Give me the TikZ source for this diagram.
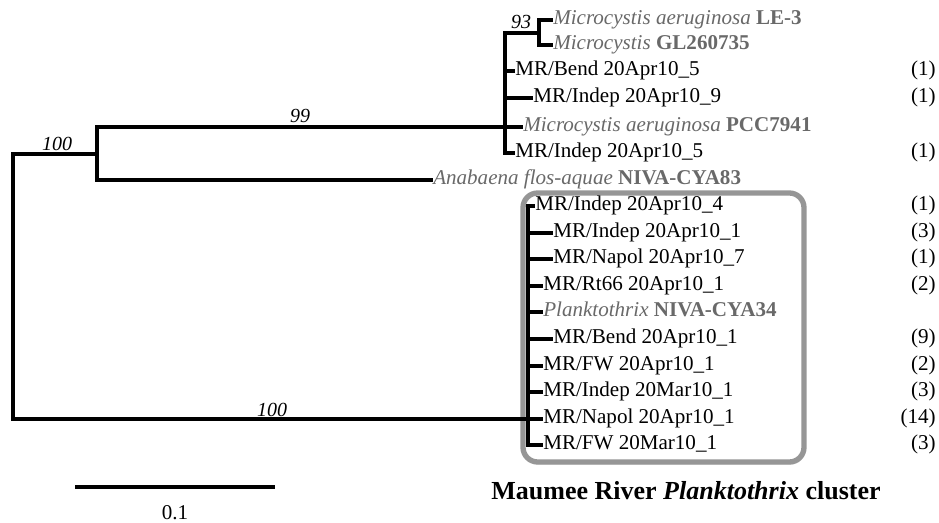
\documentclass[tikz,border=0pt]{standalone}
\usepackage{fontspec}
\setmainfont{Liberation Serif}
\usetikzlibrary{positioning, shadows}
\definecolor{taxongray}{RGB}{105,105,105}
\definecolor{clusterborder}{RGB}{150,150,150}

\begin{document}
\begin{tikzpicture}[
    x=0.75pt, y=-0.75pt,
    branch/.style = {line width=2.6pt, line cap=rect, line join=miter},
    leaf/.style = {
      anchor=west, inner xsep=1.5pt, inner ysep=0pt,
      text height=0.66em, text depth=0pt,
      font=\fontsize{15.8}{18}\selectfont
    },
    refleaf/.style = {leaf, text=taxongray},
    count/.style = {
      anchor=east, inner sep=0pt, text height=0.66em, text depth=0pt,
      font=\fontsize{15.8}{18}\selectfont
    },
    support/.style = {font=\fontsize{15}{17}\selectfont\itshape, inner sep=0pt},
    clusterbox/.style = {
      draw=clusterborder, line width=4pt, fill=white, rounded corners=11pt,
      drop shadow={opacity=0.25, shadow xshift=1pt, shadow yshift=-2pt}
    },
    caption/.style = {font=\fontsize{19.5}{22}\selectfont\bfseries, inner sep=0pt},
  ]
    \useasboundingbox (0,0) rectangle (939,523);

    % Planktothrix box (behind the tree)
    \draw[clusterbox] (523,193) rectangle (804,462);

    % Internal nodes
    \coordinate (nRoot) at (13,154);
    \coordinate (nAna)  at (97,154);
    \coordinate (nMic)  at (505,127);
    \coordinate (n93)   at (539,33);
    \coordinate (nPlk)  at (528,419);

    % Leaves: Microcystis clade
    \node[refleaf] (mic1)   at (551,20)  {\textit{Microcystis aeruginosa} \textbf{LE-3}};
    \node[refleaf] (mic2)   at (551,45)  {\textit{Microcystis} \textbf{GL260735}};
    \node[leaf]    (bend5)  at (513,71)  {MR/Bend 20Apr10\_5};
    \node[leaf]    (indep9) at (531,98)  {MR/Indep 20Apr10\_9};
    \node[refleaf] (pcc)    at (521,127) {\textit{Microcystis aeruginosa} \textbf{PCC7941}};
    \node[leaf]    (indep5) at (513,153) {MR/Indep 20Apr10\_5};
    \node[refleaf] (anab)   at (431,180) {\textit{Anabaena flos-aquae} \textbf{NIVA-CYA83}};

    % Leaves: Planktothrix cluster
    \node[leaf]    (p1)  at (533,206) {MR/Indep 20Apr10\_4};
    \node[leaf]    (p2)  at (551,233) {MR/Indep 20Apr10\_1};
    \node[leaf]    (p3)  at (551,259) {MR/Napol 20Apr10\_7};
    \node[leaf]    (p4)  at (541,286) {MR/Rt66 20Apr10\_1};
    \node[refleaf] (p5)  at (541,312) {\textit{Planktothrix} \textbf{NIVA-CYA34}};
    \node[leaf]    (p6)  at (551,339) {MR/Bend 20Apr10\_1};
    \node[leaf]    (p7)  at (541,366) {MR/FW 20Apr10\_1};
    \node[leaf]    (p8)  at (541,392) {MR/Indep 20Mar10\_1};
    \node[leaf]    (p9)  at (541,419) {MR/Napol 20Apr10\_1};
    \node[leaf]    (p10) at (541,445) {MR/FW 20Mar10\_1};

    % Clone counts
    \node[count] (cBend5)  at (936,71)  {(1)};
    \node[count] (cIndep9) at (936,98)  {(1)};
    \node[count] (cIndep5) at (936,153) {(1)};
    \node[count] (c1)  at (936,206) {(1)};
    \node[count] (c2)  at (936,233) {(3)};
    \node[count] (c3)  at (936,259) {(1)};
    \node[count] (c4)  at (936,286) {(2)};
    \node[count] (c6)  at (936,339) {(9)};
    \node[count] (c7)  at (936,366) {(2)};
    \node[count] (c8)  at (936,392) {(3)};
    \node[count] (c9)  at (936,419) {(14)};
    \node[count] (c10) at (936,445) {(3)};

    % Branches
    \draw[branch] (nAna) -- (nRoot) -- (nRoot |- p9.west) -- (p9.west);
    \draw[branch] (pcc.west) -- (nAna |- pcc.west) -- (nAna |- anab.west) -- (anab.west);
    \draw[branch] (n93) -- (nMic |- n93) -- (nMic |- indep5.west) -- (indep5.west);
    \draw[branch] (mic1.west) -- (n93 |- mic1.west) -- (n93 |- mic2.west) -- (mic2.west);
    \draw[branch] (nMic |- bend5.west) -- (bend5.west);
    \draw[branch] (nMic |- indep9.west) -- (indep9.west);
    \draw[branch] (p1.west) -- (nPlk |- p1.west) -- (nPlk |- p10.west) -- (p10.west);
    \foreach \leaf in {p2,p3,p4,p5,p6,p7,p8}
      \draw[branch] (nPlk |- \leaf.west) -- (\leaf.west);

    % Bootstrap values
    \node[support] (bs100a) at (57,144)  {100};
    \node[support] (bs99)   at (300,116) {99};
    \node[support] (bs93)   at (521,22)  {93};
    \node[support] (bs100b) at (272,410) {100};

    % Scale bar
    \coordinate (sbL) at (75,487);
    \coordinate (sbR) at (275,487);
    \draw[line width=2.6pt] (sbL) -- (sbR);
    \node[font=\fontsize{15.8}{18}\selectfont, inner sep=0pt] (sbText) at (175,513) {0.1};

    % Caption
    \node[caption] (capt) at (686,491) {Maumee River \textit{Planktothrix} cluster};
  \end{tikzpicture}
\end{document}
